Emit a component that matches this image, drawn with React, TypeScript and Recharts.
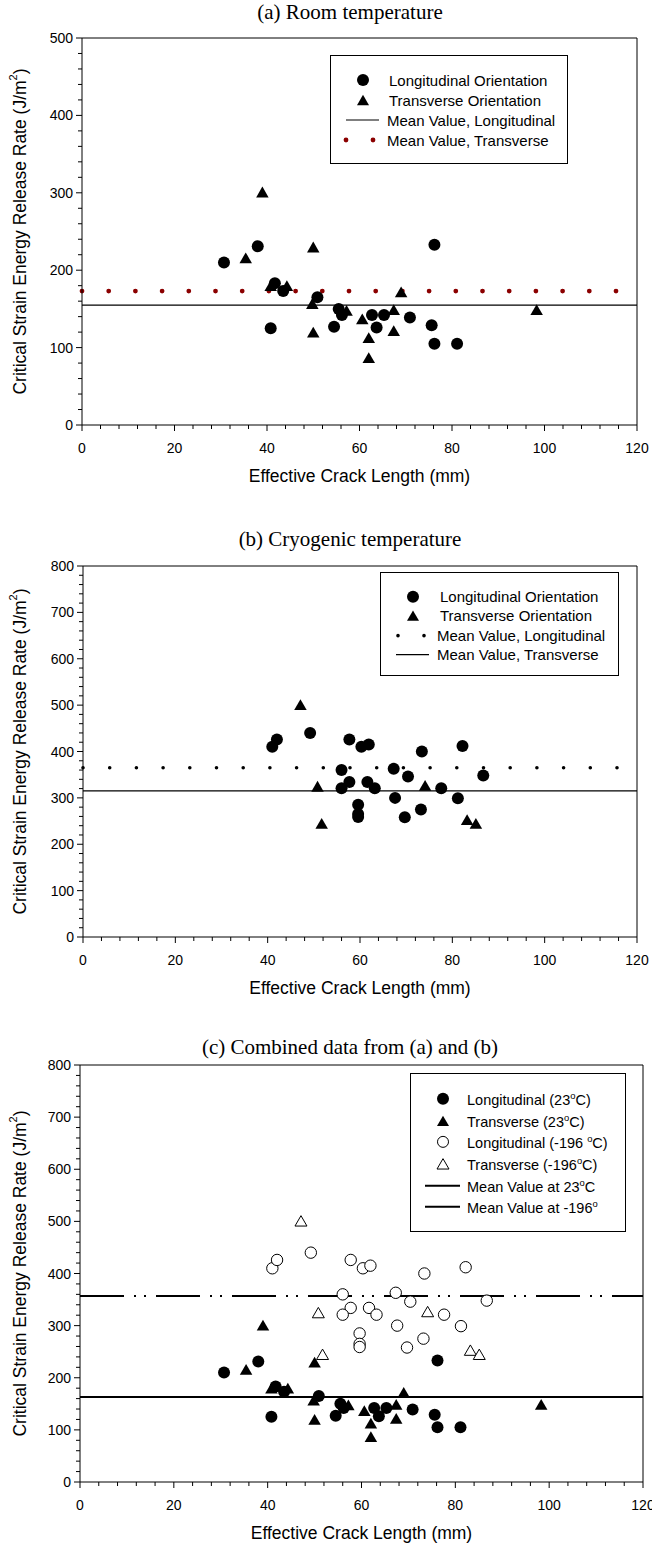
import React from 'react';
import { ScatterChart, Scatter, XAxis, YAxis, ReferenceLine, Legend, Label } from 'recharts';

type Pt = [number, number];

// (a) room temperature (23 C), crack length mm vs G (J/m2)
const roomLongitudinal: Pt[] = [
  [30.7, 210], [38.0, 231], [40.8, 125], [41.7, 183], [43.5, 173], [50.9, 165],
  [54.5, 127], [55.5, 150], [56.2, 142], [62.7, 142], [63.7, 126], [65.3, 142],
  [70.9, 139], [75.6, 129], [76.2, 233], [76.2, 105], [81.1, 105],
];
const roomTransverse: Pt[] = [
  [35.4, 216], [39.0, 301], [40.8, 180], [44.3, 180], [49.8, 157], [50.0, 230],
  [50.0, 120], [57.2, 148], [60.6, 137], [62.0, 113], [62.0, 87], [67.4, 149],
  [67.4, 122], [69.0, 172], [98.3, 149],
];

// (b) cryogenic temperature (-196 C)
const cryoLongitudinal: Pt[] = [
  [41.0, 410], [42.0, 426], [49.2, 440], [57.7, 426], [60.3, 410], [61.9, 415],
  [56.0, 360], [57.7, 334], [56.0, 321], [61.6, 334], [63.2, 321], [59.6, 285],
  [59.6, 265], [59.6, 259], [67.3, 363], [70.4, 346], [67.6, 300], [69.7, 258],
  [73.4, 400], [73.2, 275], [77.6, 321], [81.2, 299], [82.2, 412], [86.7, 348],
];
const cryoTransverse: Pt[] = [
  [47.1, 501], [50.8, 325], [51.7, 245], [74.1, 327], [83.2, 253], [85.1, 245],
];

// mean values
const roomMeanLongitudinal = 155;
const roomMeanTransverse = 173;
const cryoMeanLongitudinal = 365;
const cryoMeanTransverse = 315;
const combinedMeanRoom = 163;
const combinedMeanCryo = 357;

// axes
const xMax = 120;
const xMajorStep = 20;
const xMinorStep = 4;
const yMajorStep = 100;
const yMinorStep = 20;
const yMaxRoom = 500;
const yMaxCryo = 800;

const xTitle = 'Effective Crack Length (mm)';
const yTitle = 'Critical Strain Energy Release Rate (J/m';

const SANS = '"Liberation Sans", Arial, sans-serif';
const SERIF = '"Liberation Serif", "Times New Roman", serif';
const TICK_FS = 14;
const AXIS_FS = 17.5;

const steps = (max: number, step: number) =>
  Array.from({ length: Math.round(max / step) + 1 }, (_, i) => i * step);

const toXY = (pts: Pt[]) => pts.map(([x, y]) => ({ x, y }));

// ---------- ticks ----------
function XTick(props: any) {
  const { x, y, payload } = props;
  const v = payload.value;
  const major = v % xMajorStep === 0;
  return (
    <g>
      <line x1={x} x2={x} y1={y} y2={y + (major ? 6 : 4)} stroke="#000" />
      {major && (
        <text x={x} y={y + 28} textAnchor="middle" fontSize={TICK_FS} fontFamily={SANS} fill="#000">
          {v}
        </text>
      )}
    </g>
  );
}

function YTick(props: any) {
  const { x, y, payload } = props;
  const v = payload.value;
  const major = v % yMajorStep === 0;
  return (
    <g>
      <line x1={x - (major ? 6 : 4)} x2={x} y1={y} y2={y} stroke="#000" />
      {major && (
        <text x={x - 9} y={y + 5} textAnchor="end" fontSize={TICK_FS} fontFamily={SANS} fill="#000">
          {v}
        </text>
      )}
    </g>
  );
}

// ---------- markers ----------
const triPts = (cx: number, cy: number, s: number) => {
  const h = s * 0.866;
  return `${cx},${cy - h / 2} ${cx + s / 2},${cy + h / 2} ${cx - s / 2},${cy + h / 2}`;
};
const FilledCircle = (p: any) => <circle cx={p.cx} cy={p.cy} r={6} fill="#000" />;
const OpenCircle = (p: any) => <circle cx={p.cx} cy={p.cy} r={5.7} fill="#fff" stroke="#000" strokeWidth={1} />;
const FilledTri = (p: any) => <polygon points={triPts(p.cx, p.cy, 12.5)} fill="#000" />;
const OpenTri = (p: any) => (
  <polygon points={triPts(p.cx, p.cy, 12)} fill="#fff" stroke="#000" strokeWidth={1} />
);

// ---------- legend ----------
type Row = { kind: string; label: React.ReactNode };

function LegendIcon({ kind, h }: { kind: string; h: number }) {
  const cy = h / 2;
  const cx = 32;
  switch (kind) {
    case 'circle':
      return <circle cx={cx} cy={cy} r={6} fill="#000" />;
    case 'ocircle':
      return <circle cx={cx} cy={cy} r={5.5} fill="#fff" stroke="#000" />;
    case 'tri':
      return <polygon points={triPts(cx, cy, 12)} fill="#000" />;
    case 'otri':
      return <polygon points={triPts(cx, cy, 12)} fill="#fff" stroke="#000" />;
    case 'line':
      return <line x1={15} x2={48} y1={cy} y2={cy} stroke="#000" strokeWidth={1.2} />;
    case 'thick':
      return <line x1={14} x2={49} y1={cy} y2={cy} stroke="#000" strokeWidth={2} />;
    case 'reddots':
      return (
        <g fill="#8b0000">
          <circle cx={15} cy={cy} r={2.4} />
          <circle cx={42} cy={cy} r={2.4} />
        </g>
      );
    case 'dots':
      return (
        <g fill="#000">
          <circle cx={17} cy={cy} r={1.8} />
          <circle cx={43} cy={cy} r={1.8} />
        </g>
      );
    default:
      return null;
  }
}

function LegendBox({ rows, rowH, padTop, fontSize }: { rows: Row[]; rowH: number; padTop: number; fontSize: number }) {
  return (
    <div
      style={{
        border: '1px solid #000',
        boxSizing: 'border-box',
        width: '100%',
        height: '100%',
        background: '#fff',
        paddingTop: padTop,
        fontFamily: SANS,
        fontSize,
        color: '#000',
      }}
    >
      {rows.map((r, i) => (
        <div key={i} style={{ display: 'flex', alignItems: 'center', height: rowH, whiteSpace: 'nowrap' }}>
          <svg width={56} height={rowH} style={{ flex: 'none' }}>
            <LegendIcon kind={r.kind} h={rowH} />
          </svg>
          <span>{r.label}</span>
        </div>
      ))}
    </div>
  );
}

const deg = <sup style={{ fontSize: '0.65em' }}>o</sup>;

const legendRoom: Row[] = [
  { kind: 'circle', label: <span style={{ marginLeft: 2 }}>Longitudinal Orientation</span> },
  { kind: 'tri', label: <span style={{ marginLeft: 2 }}>Transverse Orientation</span> },
  { kind: 'line', label: 'Mean Value, Longitudinal' },
  { kind: 'reddots', label: 'Mean Value, Transverse' },
];
const legendCryo: Row[] = [
  { kind: 'circle', label: <span style={{ marginLeft: 3 }}>Longitudinal Orientation</span> },
  { kind: 'tri', label: <span style={{ marginLeft: 3 }}>Transverse Orientation</span> },
  { kind: 'dots', label: 'Mean Value, Longitudinal' },
  { kind: 'line', label: 'Mean Value, Transverse' },
];
const legendCombined: Row[] = [
  { kind: 'circle', label: <>Longitudinal (23{deg}C)</> },
  { kind: 'tri', label: <>Transverse (23{deg}C)</> },
  { kind: 'ocircle', label: <>Longitudinal (-196 {deg}C)</> },
  { kind: 'otri', label: <>Transverse (-196{deg}C)</> },
  { kind: 'thick', label: <>Mean Value at 23{deg}C</> },
  { kind: 'thick', label: <>Mean Value at -196{deg}</> },
];

// ---------- axis titles ----------
const xLabel = (p: any) => {
  const vb = p.viewBox;
  return (
    <text x={vb.x + vb.width / 2} y={vb.y + 57} textAnchor="middle" fontSize={AXIS_FS} fontFamily={SANS} fill="#000">
      {xTitle}
    </text>
  );
};
const yLabel = (p: any) => {
  const vb = p.viewBox;
  const cx = 20;
  const cy = vb.y + vb.height / 2;
  return (
    <text
      x={cx}
      y={cy}
      transform={`rotate(-90, ${cx}, ${cy})`}
      textAnchor="middle"
      dominantBaseline="central"
      fontSize={AXIS_FS}
      fontFamily={SANS}
      fill="#000"
    >
      {yTitle}
      <tspan dy={-7} fontSize={11}>2</tspan>
      <tspan dy={7}>)</tspan>
    </text>
  );
};

// ---------- panel ----------
type PanelProps = {
  top: number;
  height: number;
  plotTop: number;
  plotBottom: number;
  plotLeft: number;
  plotRight: number;
  yMax: number;
  title: string;
  titleY: number;
  legend: { left: number; top: number; width: number; height: number; rows: Row[]; rowH: number; padTop: number; fontSize: number };
  children: React.ReactNode;
};

function Panel({ top, height, plotTop, plotBottom, plotLeft, plotRight, yMax, title, titleY, legend, children }: PanelProps) {
  const xTicks = steps(xMax, xMinorStep);
  const yTicks = steps(yMax, yMinorStep);
  return (
    <div style={{ position: 'absolute', left: 0, top, width: 652, height }}>
      <ScatterChart
        width={652}
        height={height}
        margin={{ top: plotTop, right: 652 - plotRight, bottom: 0, left: 0 }}
      >
        <XAxis
          type="number"
          dataKey="x"
          domain={[0, xMax]}
          ticks={xTicks}
          interval={0}
          tickSize={0}
          tickMargin={0}
          tickLine={false}
          tick={(p: any) => <XTick {...p} />}
          axisLine={{ stroke: '#000' }}
          height={height - plotBottom}
          allowDataOverflow
        >
          <Label content={xLabel} />
        </XAxis>
        <YAxis
          type="number"
          dataKey="y"
          domain={[0, yMax]}
          ticks={yTicks}
          interval={0}
          tickSize={0}
          tickMargin={0}
          tickLine={false}
          tick={(p: any) => <YTick {...p} />}
          axisLine={{ stroke: '#000' }}
          width={plotLeft}
          allowDataOverflow
        >
          <Label content={yLabel} />
        </YAxis>
        <ReferenceLine y={yMax} stroke="#000" />
        <ReferenceLine x={xMax} stroke="#000" />
        {children}
        <Legend
          layout="vertical"
          align="center"
          verticalAlign="middle"
          wrapperStyle={{
            left: legend.left,
            top: legend.top - top,
            width: legend.width,
            height: legend.height,
            margin: 0,
          }}
          content={() => (
            <LegendBox rows={legend.rows} rowH={legend.rowH} padTop={legend.padTop} fontSize={legend.fontSize} />
          )}
        />
      </ScatterChart>
      <div
        style={{
          position: 'absolute',
          left: 0,
          width: 700,
          top: titleY - top - 11,
          textAlign: 'center',
          fontFamily: SERIF,
          fontSize: 21,
          lineHeight: '22px',
          color: '#000',
          whiteSpace: 'nowrap',
        }}
      >
        {title}
      </div>
    </div>
  );
}

export default function App() {
  return (
    <div style={{ position: 'absolute', left: 0, top: 0, width: 652, height: 1548, background: '#fff', overflow: 'hidden' }}>
      <Panel
        top={0}
        height={500}
        plotTop={38}
        plotBottom={425}
        plotLeft={82}
        plotRight={637}
        yMax={yMaxRoom}
        title="(a) Room temperature"
        titleY={12}
        legend={{ left: 330, top: 55, width: 238, height: 109, rows: legendRoom, rowH: 20, padTop: 14, fontSize: 15 }}
      >
        <ReferenceLine y={roomMeanLongitudinal} stroke="#000" strokeWidth={1.2} />
        <ReferenceLine
          y={roomMeanTransverse}
          stroke="#8b0000"
          strokeWidth={4.8}
          strokeDasharray="0 26.7"
          strokeLinecap="round"
        />
        <Scatter name="Longitudinal Orientation" data={toXY(roomLongitudinal)} shape={FilledCircle} isAnimationActive={false} />
        <Scatter name="Transverse Orientation" data={toXY(roomTransverse)} shape={FilledTri} isAnimationActive={false} />
      </Panel>

      <Panel
        top={500}
        height={500}
        plotTop={66}
        plotBottom={437}
        plotLeft={83}
        plotRight={637}
        yMax={yMaxCryo}
        title="(b) Cryogenic temperature"
        titleY={539}
        legend={{ left: 380, top: 572, width: 239, height: 104, rows: legendCryo, rowH: 19.3, padTop: 14, fontSize: 15 }}
      >
        <ReferenceLine y={cryoMeanTransverse} stroke="#000" strokeWidth={1.2} />
        <ReferenceLine
          y={cryoMeanLongitudinal}
          stroke="#000"
          strokeWidth={3.6}
          strokeDasharray="0 26.7"
          strokeLinecap="round"
        />
        <Scatter name="Longitudinal Orientation" data={toXY(cryoLongitudinal)} shape={FilledCircle} isAnimationActive={false} />
        <Scatter name="Transverse Orientation" data={toXY(cryoTransverse)} shape={FilledTri} isAnimationActive={false} />
      </Panel>

      <Panel
        top={1000}
        height={548}
        plotTop={65}
        plotBottom={482}
        plotLeft={80}
        plotRight={643}
        yMax={yMaxCryo}
        title="(c) Combined data from (a) and (b)"
        titleY={1047}
        legend={{ left: 410, top: 1073, width: 216, height: 159, rows: legendCombined, rowH: 21.7, padTop: 14, fontSize: 14.5 }}
      >
        <ReferenceLine y={combinedMeanRoom} stroke="#000" strokeWidth={2} />
        <ReferenceLine y={combinedMeanCryo} stroke="#000" strokeWidth={2} strokeDasharray="44 10 2 8 2 10" />
        <Scatter name="Longitudinal (23C)" data={toXY(roomLongitudinal)} shape={FilledCircle} isAnimationActive={false} />
        <Scatter name="Transverse (23C)" data={toXY(roomTransverse)} shape={FilledTri} isAnimationActive={false} />
        <Scatter name="Longitudinal (-196C)" data={toXY(cryoLongitudinal)} shape={OpenCircle} isAnimationActive={false} />
        <Scatter name="Transverse (-196C)" data={toXY(cryoTransverse)} shape={OpenTri} isAnimationActive={false} />
      </Panel>
    </div>
  );
}
